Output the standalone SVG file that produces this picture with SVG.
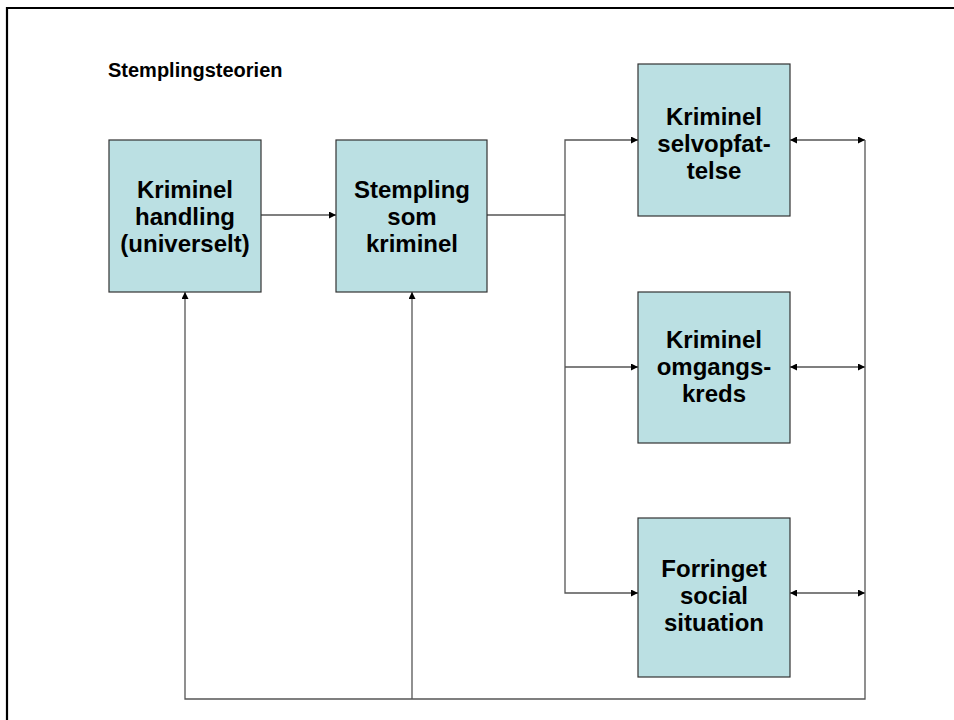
<svg xmlns="http://www.w3.org/2000/svg" width="954" height="720" viewBox="0 0 954 720">
<style>
.box{fill:#BBE0E3;stroke:#333;stroke-width:1.2}
.lbl{font-family:"Liberation Sans",Arial,sans-serif;font-weight:bold;font-size:24px;fill:#000;text-anchor:middle}
.ln{fill:none;stroke:#555;stroke-width:1.3}
</style>
<defs>
<marker id="ah" viewBox="0 0 10 10" refX="10" refY="5" markerWidth="7" markerHeight="7" markerUnits="userSpaceOnUse" orient="auto-start-reverse">
<path d="M0,0 L10,5 L0,10 z" fill="#000"/>
</marker>
</defs>
<rect width="954" height="720" fill="#fff"/>
<path d="M7,720 V8 H954" fill="none" stroke="#000" stroke-width="2.2"/>
<text x="108" y="77" font-family="'Liberation Sans',Arial,sans-serif" font-weight="bold" font-size="20">Stemplingsteorien</text>
<g id="connectors">
<line class="ln" x1="261" y1="215" x2="336" y2="215" marker-end="url(#ah)"/>
<polyline class="ln" points="487,215 565,215"/>
<polyline class="ln" points="638,140 565,140 565,593 638,593" marker-start="url(#ah)" marker-end="url(#ah)"/>
<line class="ln" x1="565" y1="367" x2="638" y2="367" marker-end="url(#ah)"/>
<line class="ln" x1="790" y1="140" x2="865" y2="140" marker-start="url(#ah)" marker-end="url(#ah)"/>
<line class="ln" x1="790" y1="367" x2="865" y2="367" marker-start="url(#ah)" marker-end="url(#ah)"/>
<line class="ln" x1="790" y1="593" x2="865" y2="593" marker-start="url(#ah)" marker-end="url(#ah)"/>
<polyline class="ln" points="865,140 865,699 185,699 185,292" marker-end="url(#ah)"/>
<line class="ln" x1="412" y1="699" x2="412" y2="292" marker-end="url(#ah)"/>
</g>
<g id="n1">
<rect class="box" x="109" y="140" width="152" height="152"/>
<text class="lbl" x="185" y="198">Kriminel</text>
<text class="lbl" x="185" y="225">handling</text>
<text class="lbl" x="185" y="252">(universelt)</text>
</g>
<g id="n2">
<rect class="box" x="336" y="140" width="151" height="152"/>
<text class="lbl" x="412" y="198">Stempling</text>
<text class="lbl" x="412" y="225">som</text>
<text class="lbl" x="412" y="252">kriminel</text>
</g>
<g id="n3">
<rect class="box" x="638" y="64" width="152" height="152"/>
<text class="lbl" x="714" y="125">Kriminel</text>
<text class="lbl" x="714" y="152">selvopfat-</text>
<text class="lbl" x="714" y="179">telse</text>
</g>
<g id="n4">
<rect class="box" x="638" y="292" width="152" height="151"/>
<text class="lbl" x="714" y="348">Kriminel</text>
<text class="lbl" x="714" y="375">omgangs-</text>
<text class="lbl" x="714" y="402">kreds</text>
</g>
<g id="n5">
<rect class="box" x="638" y="518" width="152" height="159"/>
<text class="lbl" x="714" y="577">Forringet</text>
<text class="lbl" x="714" y="604">social</text>
<text class="lbl" x="714" y="631">situation</text>
</g>
</svg>
